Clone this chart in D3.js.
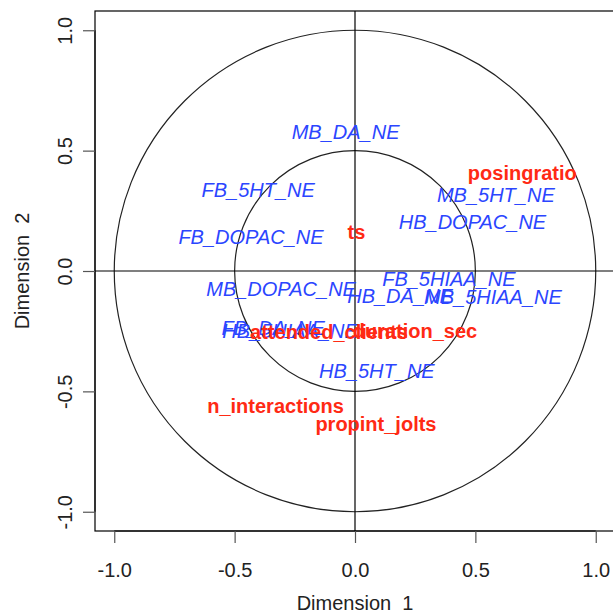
<!DOCTYPE html>
<html>
<head>
<meta charset="utf-8">
<script src="https://cdn.jsdelivr.net/npm/d3@7"></script>
<style>
  html, body { margin: 0; padding: 0; background: #fff; }
  svg { display: block; }
  text { font-family: "Liberation Sans", Arial, Helvetica, sans-serif; }
</style>
</head>
<body>
<svg id="chart" width="613" height="615"></svg>
<script>
// Correlation-circle coordinates of the variables (dimension 1, dimension 2)
const neuroNames = ["MB_DA_NE", "FB_5HT_NE", "FB_DOPAC_NE", "MB_5HT_NE", "HB_DOPAC_NE",
  "MB_DOPAC_NE", "FB_5HIAA_NE", "HB_DA_NE", "MB_5HIAA_NE", "FB_DA_NE", "HB_5HIAA_NE", "HB_5HT_NE"];
const neuroDim1 = [-0.039, -0.402, -0.432, 0.585, 0.488, -0.307, 0.390, 0.187, 0.573, -0.340, -0.270, 0.091];
const neuroDim2 = [0.577, 0.337, 0.141, 0.315, 0.205, -0.073, -0.033, -0.102, -0.108, -0.237, -0.249, -0.415];

const behavNames = ["posingratio", "ts", "attended_clients", "duration_sec", "n_interactions", "propint_jolts"];
const behavDim1 = [0.695, 0.006, -0.108, 0.249, -0.330, 0.087];
const behavDim2 = [0.407, 0.162, -0.253, -0.249, -0.560, -0.637];

const tickValues = [-1.0, -0.5, 0.0, 0.5, 1.0];
const tickLabels = ["-1.0", "-0.5", "0.0", "0.5", "1.0"];
const circleRadii = [1.0, 0.5];
const xTitle = "Dimension  1";
const yTitle = "Dimension  2";

const svg = d3.select("#chart");
const plot = { left: 95, right: 615, top: 11, bottom: 531 };

const x = d3.scaleLinear().domain([-1.08, 1.08]).range([plot.left, plot.right]);
const y = d3.scaleLinear().domain([-1.08, 1.08]).range([plot.bottom, plot.top]);

const fontSize = 20;
const tickFormat = d => tickLabels[tickValues.indexOf(d)];

// Reference circles
svg.append("g").selectAll("circle")
  .data(circleRadii)
  .join("circle")
  .attr("cx", x(0))
  .attr("cy", y(0))
  .attr("r", d => x(d) - x(0))
  .attr("fill", "none")
  .attr("stroke", "#222")
  .attr("stroke-width", 1.2);

// Axes through the origin
svg.append("line")
  .attr("x1", plot.left).attr("x2", plot.right)
  .attr("y1", y(0)).attr("y2", y(0))
  .attr("stroke", "#000").attr("stroke-width", 1.2);
svg.append("line")
  .attr("x1", x(0)).attr("x2", x(0))
  .attr("y1", plot.top).attr("y2", plot.bottom)
  .attr("stroke", "#000").attr("stroke-width", 1.2);

// Plot frame
svg.append("rect")
  .attr("x", plot.left).attr("y", plot.top)
  .attr("width", plot.right - plot.left).attr("height", plot.bottom - plot.top)
  .attr("fill", "none").attr("stroke", "#000").attr("stroke-width", 1.2);

// Bottom axis
const xAxis = d3.axisBottom(x).tickValues(tickValues).tickSize(12).tickPadding(20)
  .tickFormat(tickFormat);
const gx = svg.append("g").attr("transform", `translate(0,${plot.bottom})`).call(xAxis);
gx.select(".domain").attr("d", `M${x(-1)},0H${x(1)}`).attr("stroke", "#000");
gx.selectAll(".tick line").attr("stroke", "#555").attr("stroke-width", 1.2);
gx.selectAll(".tick text")
  .attr("font-size", fontSize).attr("fill", "#222")
  .style("font-family", "'Liberation Sans', Arial, sans-serif");

// Left axis with rotated labels
const yAxis = d3.axisLeft(y).tickValues(tickValues).tickSize(12).tickFormat(tickFormat);
const gy = svg.append("g").attr("transform", `translate(${plot.left},0)`).call(yAxis);
gy.select(".domain").attr("d", `M0,${y(-1)}V${y(1)}`).attr("stroke", "#000");
gy.selectAll(".tick line").attr("stroke", "#555").attr("stroke-width", 1.2);
gy.selectAll(".tick text")
  .attr("font-size", fontSize).attr("fill", "#222")
  .attr("x", null).attr("dy", null)
  .attr("text-anchor", "middle")
  .attr("transform", "translate(-23,0) rotate(-90)")
  .style("font-family", "'Liberation Sans', Arial, sans-serif");

// Axis titles
svg.append("text")
  .attr("x", x(0)).attr("y", 610)
  .attr("text-anchor", "middle")
  .attr("font-size", fontSize).attr("fill", "#222")
  .style("white-space", "pre")
  .text(xTitle);
svg.append("text")
  .attr("transform", `translate(29,${y(0)}) rotate(-90)`)
  .attr("text-anchor", "middle")
  .attr("font-size", fontSize).attr("fill", "#222")
  .style("white-space", "pre")
  .text(yTitle);

// Neurochemical variables (blue, italic)
const neuro = neuroNames.map((n, i) => ({ name: n, d1: neuroDim1[i], d2: neuroDim2[i] }));
svg.append("g").selectAll("text")
  .data(neuro)
  .join("text")
  .attr("x", d => x(d.d1))
  .attr("y", d => y(d.d2))
  .attr("dy", "0.35em")
  .attr("text-anchor", "middle")
  .attr("font-size", fontSize)
  .attr("font-style", "italic")
  .attr("fill", "#2b45ff")
  .text(d => d.name);

// Behavioural variables (red, bold)
const behav = behavNames.map((n, i) => ({ name: n, d1: behavDim1[i], d2: behavDim2[i] }));
svg.append("g").selectAll("text")
  .data(behav)
  .join("text")
  .attr("x", d => x(d.d1))
  .attr("y", d => y(d.d2))
  .attr("dy", "0.35em")
  .attr("text-anchor", "middle")
  .attr("font-size", fontSize)
  .attr("font-weight", "bold")
  .attr("fill", "#ff2a14")
  .text(d => d.name);
</script>
</body>
</html>
